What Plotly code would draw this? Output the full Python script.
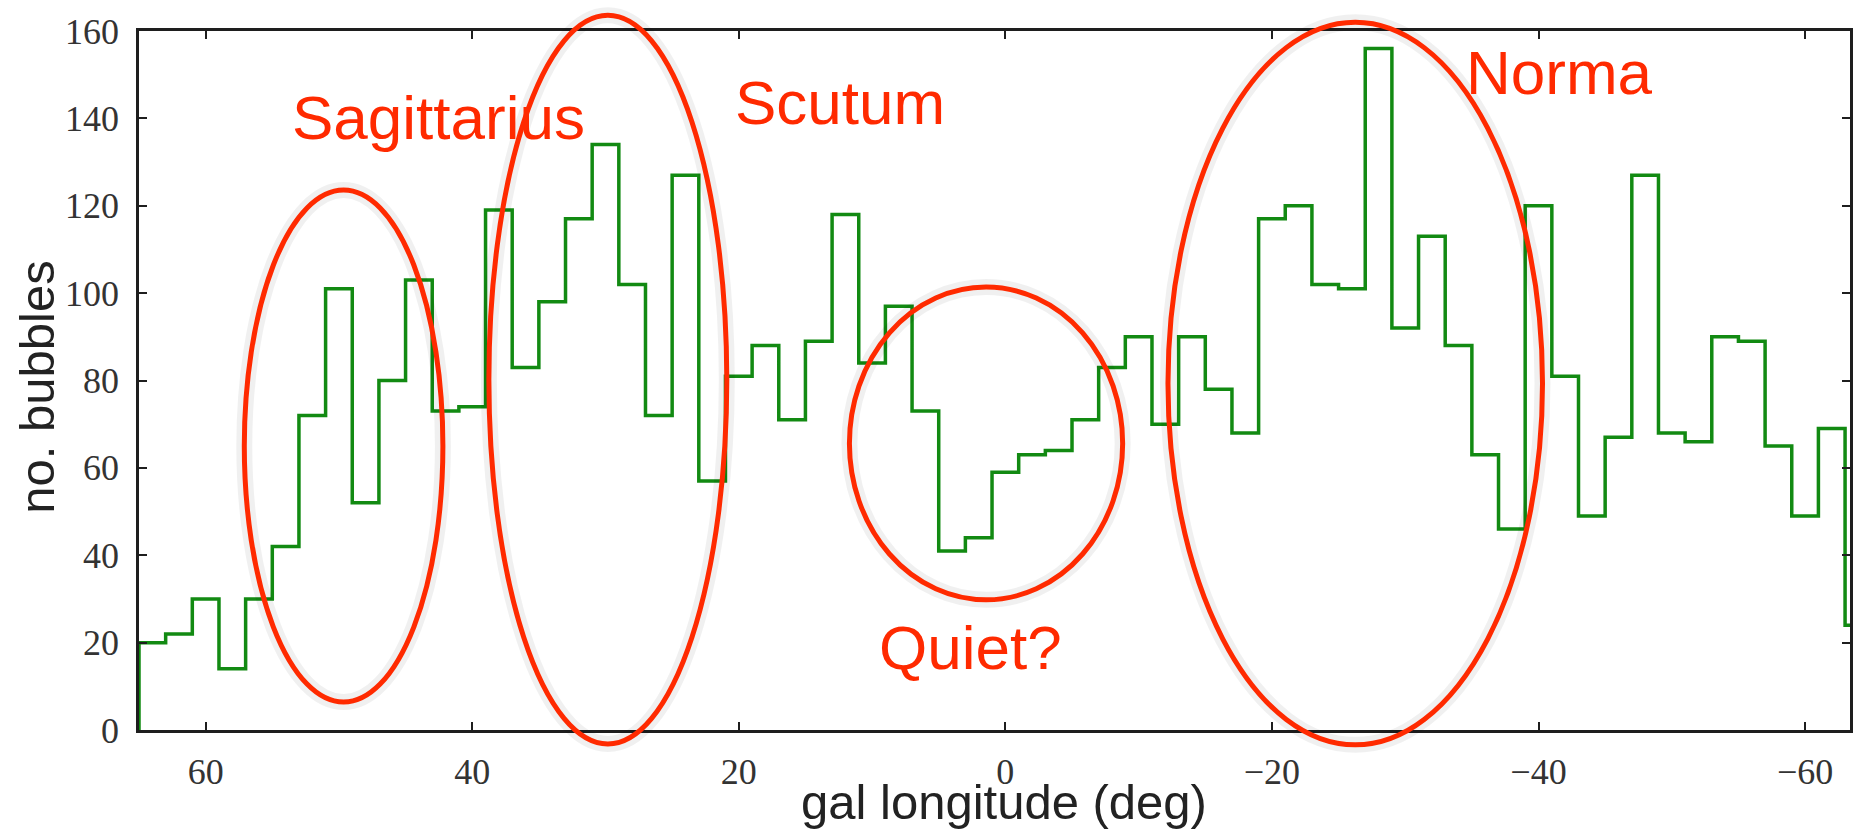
import plotly.graph_objects as go

# ---------------- data ----------------
# 2-degree longitude bins, from +65 down to -65 (deg)
lon_edges = list(range(65, -67, -2))
bubble_counts = [20, 22, 30, 14, 30, 42, 72, 101, 52, 80,
                 103, 73, 74, 119, 83, 98, 117, 134, 102, 72,
                 127, 57, 81, 88, 71, 89, 118, 84, 97, 73,
                 41, 44, 59, 63, 64, 71, 83, 90, 70, 90,
                 78, 68, 117, 120, 102, 101, 156, 92, 113, 88,
                 63, 46, 120, 81, 49, 67, 127, 68, 66, 90,
                 89, 65, 49, 69, 24]
x_tick_vals = [60, 40, 20, 0, -20, -40, -60]
x_tick_text = ["60", "40", "20", "0", "\u221220", "\u221240", "\u221260"]
y_tick_vals = [0, 20, 40, 60, 80, 100, 120, 140, 160]

# region labels (lon, count) and circled regions (lon_left, lon_right, count_low, count_high)
region_names = ["Sagittarius", "Scutum", "Quiet?", "Norma"]
region_label_pos = [(42.5, 140.2), (12.4, 143.6), (2.6, 18.8), (-41.6, 150.5)]
region_ellipses = [(57.1, 42.2, 6.4, 123.6),
                   (38.75, 20.9, -3.2, 163.6),
                   (11.7, -8.8, 29.8, 101.4),
                   (-12.2, -40.3, -3.4, 162.0)]

X_RANGE = [65, -63.37]
Y_RANGE = [0, 160]

RED = "#ff2a00"
GREEN = "#128a12"
AX = "#1e1e1e"

# step outline like a matplotlib "step" histogram
step_x = [lon_edges[0]] + lon_edges
step_y = [0] + bubble_counts + [bubble_counts[-1]]

fig = go.Figure()
fig.add_trace(go.Scatter(x=step_x, y=step_y, mode="lines",
                         line=dict(shape="hv", color=GREEN, width=3.5),
                         hoverinfo="skip", showlegend=False, cliponaxis=True))


def to_px(lon):
    return (lon - X_RANGE[0]) / (X_RANGE[1] - X_RANGE[0])


def to_py(v):
    return (v - Y_RANGE[0]) / (Y_RANGE[1] - Y_RANGE[0])


shapes = []
for (l0, l1, c0, c1) in region_ellipses:
    for w, col in [(16, "rgba(0,0,0,0.06)"), (5, RED)]:
        shapes.append(dict(type="circle", xref="paper", yref="paper",
                           x0=to_px(l0), x1=to_px(l1), y0=to_py(c0), y1=to_py(c1),
                           line=dict(color=col, width=w), layer="above"))

annotations = []
for name, (lx, ly) in zip(region_names, region_label_pos):
    annotations.append(dict(x=lx, y=ly, xref="x", yref="y", text=name,
                            showarrow=False, xanchor="center", yanchor="middle",
                            font=dict(family="Liberation Sans, Arial, sans-serif",
                                      size=62, color=RED)))

annotations.append(dict(x=0.5058, y=-0.1035, xref="paper", yref="paper",
                        text="gal longitude (deg)", showarrow=False,
                        xanchor="center", yanchor="middle",
                        font=dict(family="Liberation Sans, Arial, sans-serif", size=49, color="#222")))
annotations.append(dict(x=-0.0595, y=0.49, xref="paper", yref="paper",
                        text="no. bubbles", showarrow=False, textangle=-90,
                        xanchor="center", yanchor="middle",
                        font=dict(family="Liberation Sans, Arial, sans-serif", size=49, color="#222")))

fig.update_layout(
    width=1853, height=831, autosize=False,
    margin=dict(l=139, r=0, t=31, b=101, pad=0),
    paper_bgcolor="white", plot_bgcolor="white",
    shapes=shapes, annotations=annotations,
    showlegend=False,
)
fig.update_xaxes(range=X_RANGE, tickvals=x_tick_vals, ticktext=x_tick_text,
                 showgrid=False, zeroline=False, showline=True, linecolor=AX, linewidth=2.5,
                 mirror="ticks", ticks="inside", ticklen=8, tickwidth=1.5, tickcolor=AX,
                 ticklabelstandoff=8,
                 tickfont=dict(family="Liberation Serif, Times New Roman, serif", size=36, color="#333"))
fig.update_yaxes(range=Y_RANGE, tickvals=y_tick_vals,
                 showgrid=False, zeroline=False, showline=True, linecolor=AX, linewidth=2.5,
                 mirror="ticks", ticks="inside", ticklen=8, tickwidth=1.5, tickcolor=AX,
                 ticklabelstandoff=10,
                 tickfont=dict(family="Liberation Serif, Times New Roman, serif", size=36, color="#333"))

fig.write_html("out.html", config={"displayModeBar": False},
               post_script="document.body.style.margin='0';document.body.style.overflow='hidden';")
